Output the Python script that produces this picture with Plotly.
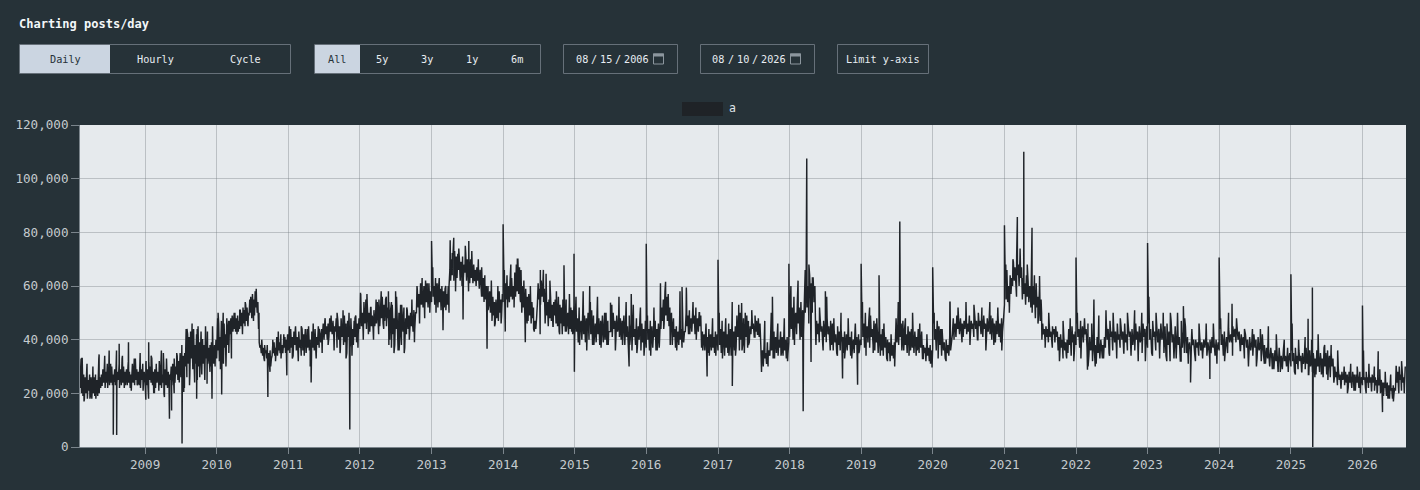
import pandas as pd
import plotly.graph_objects as go

y2008 = [22,30,20,33,19,27,18,26,20,28,18,25,21,27,19,26,18,24,20,26,19,27,21,25,19,28,20,26,22,27,
         23,29,24,30,22,28,24,31,25,29,23,28,24,30,23,27,25,29,23,31,24,28,
         25,31,26,29,23,33,24,30,22,28,25,29,23,30,24,28,22,27,25,31,24,29,23,33,25,29,24,28,23,30,22,29,25,31,24,28]
y2009 = [24,31,23,29,22,32,25,30,24,33,23,28,25,29,22,30,24,28,26,32,23,29,22,27,24,31,25,29,23,30,22,28,24,27,25,30,23,31,26,33,24,30,27,34,25,32,28,35,
         26,33,28,34,29,35,
         30,44,26,42,31,41,27,43,33,40,29,44,28,38,31,42,25,45,30,39,32,43,27,40,31,38,25,45,33,39,
         31,37,33,38,30,39,32,36,31,38,33,40]
y2010 = [33,44,36,46,32,41,35,47,38,44,31,46,37,42,33,48,38,44,35,47,
         42,48,44,49,43,47,44,50,43,48,45,49,43,47,44,51,
         45,50,44,52,46,51,45,53,47,52,46,50,
         49,55,50,53,48,57,51,55,49,58,52,55,50,54,
         44,39,37,38,35,39,34,37,33,38,35,36,33,37,32,35,31,36,30,33,
         34,38,35,39,34,37,36,41,34,38,36,39,35,42,36,38,35,39,37,41,35,40,37,42]
y2011 = [36,42,35,44,37,41,34,43,38,45,36,41,35,43,37,40,34,44,36,42,38,44,35,41,37,45,36,40,34,43,37,42,36,44,35,41,38,45,37,42,
         39,44,41,46,40,47,42,45,40,46,41,48,43,46,42,47,41,45,43,48,
         37,47,40,45,36,48,41,44,38,49,39,46,35,47,41,45,37,48,40,44,38,47,41,49,39,46,42,48]
y2012 = [44,52,45,50,43,54,46,51,44,53,46,50,43,52,45,49,44,51,45,49,
         46,54,47,55,45,52,48,56,46,53,47,55,45,52,48,54,
         40,51,37,53,42,48,38,52,44,47,36,50,41,53,38,49,43,52,37,48,42,51,
         44,49,43,50,45,48,43,51,44,50,
         50,59,52,57,51,61,53,58,52,60,51,62,54,59,52,61,53,58]
y2013 = [54,62,56,60,53,63,55,61,52,60,54,59,51,60,53,58,52,59,51,57,53,60,
         60,66,62,70,64,72,62,73,65,71,63,72,66,70,62,69,64,71,63,68,65,72,62,70,64,69,61,70,63,68,
         61,68,62,66,60,67,62,65,59,66,61,67,
         56,63,54,61,55,60,51,60,53,58,50,59,
         47,56,49,54,46,55,48,53,47,58,50,55,49,57]
y2014 = [54,63,56,61,55,64,57,60,54,62,56,63,55,60,
         57,65,56,68,58,70,57,67,55,66,
         50,60,52,58,48,59,50,56,47,57,49,55,46,54,48,52,
         43,47,44,48,
         53,61,55,59,53,62,56,60,54,59,
         46,56,49,54,45,55,48,56,47,53,45,54,49,55,46,52,45,56,
         43,53,46,52,42,54,45,51,43,55,46,50,42,53,44,52,43,51,45,53]
y2015 = [41,51,43,48,39,52,44,47,40,50,42,49,39,48,43,50,40,47,42,51,38,49,41,46,39,50,42,48,38,47,41,49,39,46,40,50,38,47,
         43,43,43,43,
         41,50,44,47,40,49,43,46,41,48,40,47,43,49,
         38,48,41,45,37,49,40,46,36,47,41,44,38,48,37,45,40,49,36,46,39,44,37,47]
y2016 = [37,46,40,44,36,47,39,45,37,43,41,47,36,44,39,46,37,45,
         44,52,47,55,46,58,49,54,47,57,45,52,46,50,
         38,46,41,44,37,45,40,43,38,46,40,44,37,45,39,43,
         43,50,45,49,42,51,45,48,43,50,46,49,42,52,44,48,43,50,45,49,
         37,43,39,42,36,43,38,41,35,44,38,42,36,43,37,41,35,43,38,42]
y2017 = [36,46,38,44,35,47,39,43,34,45,37,42,35,46,38,44,34,47,37,43,36,45,
         37,49,41,46,36,50,40,47,38,48,35,46,41,49,37,47,39,45,
         42,48,44,46,41,49,43,47,42,48,41,46,
         38,31,36,30,38,33,35,31,39,34,36,
         34,42,36,40,33,43,37,41,35,42,34,40,37,43,35,41,34,42,36,40,33,41,35,39]
y2018 = [41,54,44,52,40,56,45,50,42,55,46,52,40,54,44,51,42,55,
         50,62,52,60,49,64,53,61,50,63,54,60,
         40,47,42,46,39,48,43,45,38,47,41,46,39,48,42,45,40,47,38,46,
         36,44,39,42,35,45,38,43,36,44,39,41,35,43,37,42,36,44,38,41,34,43,37,40,35,44,38,41,34,42,36,40]
y2019 = [38,48,41,46,37,50,42,45,39,47,37,49,41,44,38,47,
         36,46,39,43,35,45,38,42,36,44,34,43,37,41,33,40,35,39,32,40,34,38,33,39,
         37,48,39,45,38,49,41,46,37,47,
         36,44,38,42,35,45,39,43,36,44,37,42,35,43,38,41,36,44,35,42,37,43,
         33,38,35,37,32,39,34,37,32,38,34,36]
y2020 = [37,46,40,44,36,47,41,45,38,44,
         34,41,36,39,33,40,35,38,34,41,36,39,
         42,48,44,46,41,49,44,47,42,48,43,46,41,47,44,48,42,46,43,49,41,47,44,46,
         41,49,44,47,40,50,45,47,42,48,41,49,44,46,40,48,43,47,42,49,
         40,48,43,46,39,47,42,49,41,46,39,48,43,47]
y2021 = [53,62,55,66,54,60,52,64,57,63,
         60,69,62,67,61,71,64,68,60,70,63,67,
         55,63,57,61,53,64,56,62,54,60,57,63,
         50,60,53,58,48,61,52,56,49,59,47,55,
         40,46,42,44,39,45,41,44,39,46,41,43,40,45,42,44,39,45,41,43,
         36,41,34,42,37,40,33,41,36,39,34,40,
         35,44,38,42,34,45,39,42,36,43]
y2022 = [38,46,41,44,37,47,41,45,39,46,42,44,37,46,
         34,41,36,39,32,42,36,38,31,41,35,39,33,40,36,38,33,41,
         37,46,40,44,35,47,41,43,36,45,39,43,37,46,40,42,
         37,45,40,43,35,46,39,42,36,45,41,43,35,44,38,42,36,46,40,43,37,45,39,42,35,46,41,44,37,45]
y2023 = [37,46,40,44,35,47,41,43,36,45,39,44,37,46,40,42,35,45,
         34,46,38,43,32,47,39,42,35,45,33,44,38,41,32,47,37,43,35,45,
         35,41,37,39,34,41,38,40,35,40,37,39,34,41,36,39,35,40,37,41,34,39,36,40,35,41,37,39,34,40,36,39]
y2024 = [36,44,38,42,34,43,37,41,35,44,39,42,
         39,45,41,44,39,45,40,43,
         36,42,38,41,33,42,37,40,32,41,36,39,34,42,37,40,33,41,36,39,32,42,35,38,
         31,37,33,36,30,37,33,35,29,36,32,35,28,37,31,34,29,36,32,34,30,37,32,35]
y2025 = [30,36,32,35,28,37,31,34,29,36,32,34,28,35,31,33,29,37,31,34,27,36,30,34,28,35,31,33,
         27,36,30,34,28,35,31,33,26,37,30,35,27,36,31,34,26,35,30,33,
         24,30,26,28,23,29,25,27,22,28,25,27,23,28,24,27,22,28,24,26,22,28,25,27,21,27,24,26,22,28,24,26]
y2026 = [23,27,25,26,22,28,24,26,22,27,24,26,21,27,24,25,21,26,23,25,21,26,23,25,20,25,22,24,19,24,22,23,19,24,21,23,18,24,21,22,18,23,20,22,
         21,30,24,28,22,30,25,27,21,28,24,26,23,30]
series_years = [2008,2009,2010,2011,2012,2013,2014,2015,2016,2017,2018,2019,2020,2021,2022,2023,2024,2025,2026]
series_values = [y2008,y2009,y2010,y2011,y2012,y2013,y2014,y2015,y2016,y2017,y2018,y2019,y2020,y2021,y2022,y2023,y2024,y2025,y2026]

# smaller up and down excursions along the band's edges, per year
f2008 = [33,17,31,18,30,18,33,23,34,22,31,24,36,22,34,23,32,21,33,23,35,21]
f2009 = [32,18,34,20,31,21,36,20,33,22,30,20,35,24,38,22,44,23,46,24,44,26,40,26,43,28,45,30]
f2010 = [48,29,50,30,47,33,50,42,51,42,54,45,56,47,59,50,40,32,38,28,40,32,43,33,42,32]
f2011 = [45,33,44,32,45,34,44,30,46,33,44,35,48,38,49,36,50,35,51,33,50,34,48,37]
f2012 = [57,40,55,42,52,40,55,42,58,44,56,38,54,35,56,36,53,35,52,40,55,39,60,46,63,48,61,50]
f2013 = [67,50,63,53,60,50,72,58,74,60,75,58,73,62,70,56,64,51,62,45,60,46]
f2014 = [66,52,68,52,70,54,62,46,60,44,50,42,66,52,62,45,58,42,55,43,57,42]
f2015 = [56,38,58,36,54,38,56,37,50,38,53,36,56,38,54,38,53,35,52,34]
f2016 = [49,34,52,36,61,44,56,38,48,36,58,40,57,42,54,40,50,36,46,34,48,34]
f2017 = [50,33,48,34,54,34,53,36,50,38,51,41,42,28,47,30,50,33,46,34,48,32]
f2018 = [60,38,62,41,66,46,63,38,52,36,56,36,48,34,50,33,48,33,46,35]
f2019 = [54,34,52,35,48,34,46,32,42,30,54,36,48,34,50,34,46,33,42,31]
f2020 = [50,33,44,32,54,40,52,39,54,38,53,40,52,36,54,38,52,36]
f2021 = [68,50,70,56,74,58,68,52,64,46,50,37,50,37,44,32,47,33,48,32]
f2022 = [50,33,48,30,46,30,49,33,51,34,50,33,48,35,50,34,51,32,50,32]
f2023 = [56,34,50,33,50,32,50,33,50,32,48,31,44,32,46,33,46,33,46,31]
f2024 = [48,32,50,34,48,36,44,30,44,30,44,31,45,29,42,28,40,28]
f2025 = [46,27,40,28,41,27,40,26,42,27,38,25,38,26,36,22,30,20,31,21,30,20]
f2026 = [36,20,31,21,30,20,29,19,28,18,27,17,30,20,32,20]
fringe_values = [f2008,f2009,f2010,f2011,f2012,f2013,f2014,f2015,f2016,f2017,f2018,f2019,f2020,f2021,f2022,f2023,f2024,f2025,f2026]

# outlier days: decimal year and thousands of posts
outlier_dates = [2008.118,2008.36,2008.50,2008.558,2008.605,2008.64,2008.77,2009.01,2009.05,2009.13,2009.255,2009.27,2009.34,2009.37,2009.516,2009.54,2009.72,2009.865,2009.934,2010.02,2010.07,2010.715,2010.98,2011.32,2011.86,2011.87,2012.01,2012.10,2012.40,2012.50,2013.0,2013.16,2013.26,2013.31,2013.44,2013.52,2013.775,2014.0,2014.03,2014.31,2014.52,2014.60,2014.85,2014.99,2014.995,2015.21,2015.50,2015.76,2015.79,2016.0,2016.27,2016.50,2016.56,2016.85,2017.0,2017.2,2017.33,2017.76,2017.99,2018.19,2018.24,2018.27,2018.30,2018.50,2018.74,2018.95,2019.0,2019.25,2019.54,2019.99,2020.0,2020.24,2021.0,2021.18,2021.27,2021.385,2021.49,2022.0,2022.16,2022.25,2023.0,2023.5,2023.6,2023.87,2024.0,2024.18,2025.0,2025.24,2025.30,2025.305,2026.0,2026.22,2026.28]
outlier_values = [33,34.5,36,4.6,4.5,38.5,39,17.6,39,20,35,18.6,10.5,13.6,1.3,20.5,18,23.6,18,50,19.6,18.6,26.7,24,6.5,39,57.5,57,58,58,76.8,43.5,77,78,47.5,76.8,36.6,83,43,39,66,64.6,67.7,72,28,60,53.8,30,57,75.7,61.6,59.6,59.4,26.3,69.8,22.7,53.7,56,68.3,13.3,107.5,68,31.7,58,25.5,23.2,68.3,64,84,29.6,67,54,82.6,85.7,110,81.7,63.7,70.6,28.8,55,76,52.5,24,25.3,70.6,53.4,64.4,47.8,59.4,0,52.7,35.7,13]

x_start = 2008.093
x_end = 2026.608
year_ticks = list(range(2009, 2027))
y_ticks = [0, 20000, 40000, 60000, 80000, 100000, 120000]
mode_buttons = ["Daily", "Hourly", "Cycle"]
range_buttons = ["All", "5y", "3y", "1y", "6m"]
date_from = ["08", "/", "15", "/", "2006"]
date_to = ["08", "/", "10", "/", "2026"]

# ---------- build series ----------
def to_date(v):
    yr = int(v)
    start = pd.Timestamp(year=yr, month=1, day=1)
    return start + pd.Timedelta(days=(v - yr) * 365.25)

points = []
for yr, vals, fr in zip(series_years, series_values, fringe_values):
    a = x_start if yr == 2008 else yr
    b = x_end if yr == 2026 else yr + 1
    for i, v in enumerate(vals):
        points.append((a + (b - a) * i / len(vals), v))
    for i, v in enumerate(fr):
        points.append((a + (b - a) * (i + 0.37) / len(fr), v))
points += list(zip(outlier_dates, outlier_values))
points.sort(key=lambda p: p[0])
xs = [to_date(p[0]) for p in points]
ys = [p[1] * 1000 for p in points]

BG = "#263238"
PLOT = "#e6eaed"
LINE = "#1f2328"
BORDER = "#667079"
ACTIVE = "#cbd5e1"
TEXT = "#e8edf2"
TICK = "#c5cbcf"
MONO = "DejaVu Sans Mono"

L, R, T, B = 80, 1406, 125, 447
W, H = R - L, B - T
def px(x): return (x - L) / W
def py(y): return (B - y) / H

shapes, ann = [], []
def rect(x0, y0, x1, y1, fill=None, line=None, lw=1):
    shapes.append(dict(type="rect", xref="paper", yref="paper", x0=px(x0), x1=px(x1), y0=py(y0), y1=py(y1),
                       fillcolor=fill if fill else "rgba(0,0,0,0)",
                       line=dict(color=line if line else "rgba(0,0,0,0)", width=lw if line else 0)))
def label(x, y, s, size=10.2, color=TEXT, anchor="center", bold=False):
    ann.append(dict(xref="paper", yref="paper", x=px(x), y=py(y), text=f"<b>{s}</b>" if bold else s, showarrow=False,
                    xanchor=anchor, yanchor="middle", font=dict(family=MONO, size=size, color=color)))
def calendar(x, y):
    rect(x + 0.5, y + 0.5, x + 10.5, y + 10.5, line="#8c969e", lw=1)
    rect(x, y, x + 11, y + 3, fill="#8c969e")

label(17, 24, "Charting posts/day", size=12, color="#f4f7f9", anchor="left", bold=True)

rect(20, 45, 110, 73, fill=ACTIVE)
rect(19.5, 44.5, 290.5, 73.5, line=BORDER)
for cx, s, c in zip([65, 155, 245], mode_buttons, ["#263238", TEXT, TEXT]):
    label(cx, 59.5, s, color=c)

rect(315, 45, 360, 73, fill=ACTIVE)
rect(314.5, 44.5, 540.5, 73.5, line=BORDER)
for cx, s, c in zip([337, 382, 427, 472, 517], range_buttons, ["#263238", TEXT, TEXT, TEXT, TEXT]):
    label(cx, 59.5, s, color=c)

rect(563.5, 44.5, 677.5, 73.5, line=BORDER)
for cx, s in zip([581.5, 594, 606, 618, 636.7], date_from):
    label(cx, 59.5, s)
calendar(653, 53.5)
rect(700.5, 44.5, 814.5, 73.5, line=BORDER)
for cx, s in zip([718, 731, 743.3, 755, 773.3], date_to):
    label(cx, 59.5, s)
calendar(790, 53.5)
rect(837.5, 44.5, 928.5, 73.5, line=BORDER)
label(883, 59.5, "Limit y-axis")

rect(682, 102, 723, 116, fill="#1f2327")
label(732, 108.5, "a", size=11.5, color="#dfe4e8")

fig = go.Figure(go.Scatter(x=xs, y=ys, mode="lines", line=dict(color=LINE, width=1.45, simplify=False),
                           name="a", showlegend=False, hoverinfo="skip"))

GRID = "rgba(110,118,126,0.36)"
fig.update_layout(
    width=1420, height=490, autosize=False,
    margin=dict(l=L, r=1420 - R, t=T, b=490 - B, pad=0),
    paper_bgcolor=BG, plot_bgcolor=PLOT,
    font=dict(family=MONO, color=TICK, size=12.6),
    shapes=shapes, annotations=ann,
    xaxis=dict(type="date", range=[to_date(x_start), to_date(x_end)],
               tickmode="array", tickvals=[pd.Timestamp(year=y, month=1, day=1) for y in year_ticks],
               ticktext=[str(y) for y in year_ticks],
               showgrid=True, gridcolor=GRID, gridwidth=1, ticks="outside", ticklen=6, tickcolor="#7b858c",
               showline=True, linecolor="#7b858c", linewidth=1, zeroline=False,
               tickfont=dict(family=MONO, size=12.6, color=TICK)),
    yaxis=dict(range=[0, 120000], tickvals=y_ticks, ticktext=[f"{v:,}" for v in y_ticks],
               showgrid=True, gridcolor=GRID, gridwidth=1, ticks="outside", ticklen=8, tickcolor="#7b858c",
               showline=True, linecolor="#7b858c", linewidth=1, zeroline=False,
               tickfont=dict(family=MONO, size=12.6, color=TICK)),
)

fig.write_html("out.html", config={"displayModeBar": False},
               post_script="document.body.style.margin='0';document.body.style.background='#263238';document.body.style.overflow='hidden';")
